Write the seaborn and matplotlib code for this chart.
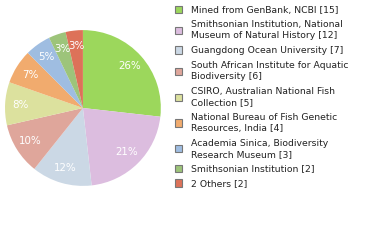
import matplotlib
matplotlib.use("Agg")
import matplotlib.pyplot as plt
import matplotlib.patches as mpatches
import seaborn as sns

sns.set_theme(style="white")
plt.rcParams['font.family'] = ['DejaVu Sans']

labels = ["Mined from GenBank, NCBI", "Smithsonian Institution, National\nMuseum of Natural History",
          "Guangdong Ocean University", "South African Institute for Aquatic\nBiodiversity",
          "CSIRO, Australian National Fish\nCollection", "National Bureau of Fish Genetic\nResources, India",
          "Academia Sinica, Biodiversity\nResearch Museum", "Smithsonian Institution", "2 Others"]
values = [15, 12, 7, 6, 5, 4, 3, 2, 2]
colors = ["#9cd75c", "#dcbddf", "#cbd8e5", "#dfa69b", "#dce19e", "#f1ab6e", "#9fbde1", "#9dc47a", "#dd7259"]

total = sum(values)
fig = plt.figure(figsize=(3.8, 2.4), dpi=100)
ax = fig.add_axes([0.0132, 0.225, 0.41, 0.65])
wedges, texts, autotexts = ax.pie(
    values, colors=colors, startangle=90, counterclock=False,
    autopct=lambda p: f"{int(p * total / 100 + 1e-6) * 100 // total}%",
    pctdistance=0.8, wedgeprops=dict(linewidth=0),
    textprops=dict(color="white", fontsize=7.4))
ax.set_xlim(-1, 1)
ax.set_ylim(-1, 1)
ax.set_aspect("equal")
ax.axis("off")

handles = [mpatches.Patch(facecolor=c, edgecolor="#777777", linewidth=0.8) for c in colors]
leg_labels = [f"{l} [{v}]" for l, v in zip(labels, values)]
leg = fig.legend(handles, leg_labels, loc="upper left", bbox_to_anchor=(0.445, 1.0),
                 frameon=False, fontsize=6.7, handlelength=0.8, handleheight=0.8,
                 handletextpad=1.0, labelspacing=0.62, borderaxespad=0.2)
for t in leg.get_texts():
    t.set_color("#222222")
    t.set_linespacing(1.3)
fig.savefig("out.png", dpi=100)
